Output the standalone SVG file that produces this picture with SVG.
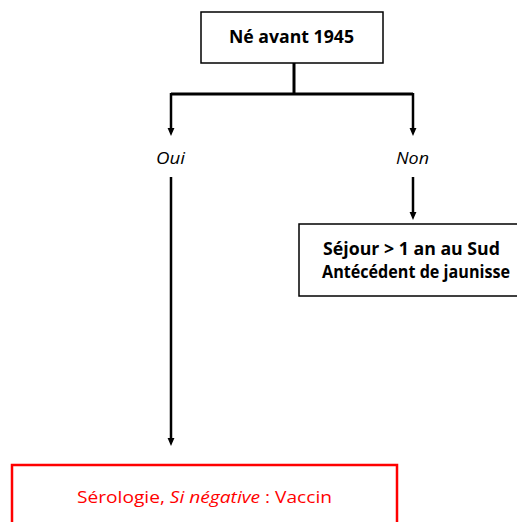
<svg xmlns="http://www.w3.org/2000/svg" width="517" height="522" viewBox="0 0 517 522">
<style>
.box{fill:#fff;stroke:#000;stroke-width:1.5}
.red{fill:#fff;stroke:#ff0000;stroke-width:2.5}
.b{font-family:"Open Sans","Liberation Sans",sans-serif;font-weight:bold;font-size:17px;fill:#000;text-anchor:middle}
.i{font-family:"Open Sans","Liberation Sans",sans-serif;font-style:italic;font-size:17px;fill:#000;text-anchor:middle}
.r{font-family:"Open Sans","Liberation Sans",sans-serif;font-size:17px;fill:#ff0000;text-anchor:middle}
.ln{stroke:#000;stroke-width:3;fill:none}
.ar{stroke:#000;stroke-width:2.5;fill:none}
</style>
<defs>
<marker id="ah" markerWidth="8" markerHeight="8" refX="3.5" refY="3" orient="auto" markerUnits="userSpaceOnUse" viewBox="0 0 7 6">
<path d="M0,0 L7,3 L0,6 Z" fill="#000"/>
</marker>
</defs>
<g id="connectors">
<path class="ln" d="M294,63 V94"/>
<path class="ln" d="M171,94 H413"/>
<path class="ar" d="M171,93 V132" marker-end="url(#ah)"/>
<path class="ar" d="M413,93 V132" marker-end="url(#ah)"/>
<path class="ar" d="M413,177 V216" marker-end="url(#ah)"/>
<path class="ar" d="M171,177 V442" marker-end="url(#ah)"/>
</g>
<g id="n-ne">
<rect class="box" x="201" y="12" width="182" height="51"/>
<text class="b" x="291.5" y="43" textLength="125" lengthAdjust="spacingAndGlyphs">Né avant 1945</text>
</g>
<g id="n-oui">
<text class="i" x="170.5" y="164" textLength="29" lengthAdjust="spacingAndGlyphs">Oui</text>
</g>
<g id="n-non">
<text class="i" x="412.5" y="164" textLength="33" lengthAdjust="spacingAndGlyphs">Non</text>
</g>
<g id="n-sejour">
<rect class="box" x="299" y="224" width="222" height="72"/>
<text class="b" x="411.5" y="255" textLength="177" lengthAdjust="spacingAndGlyphs">Séjour &gt; 1 an au Sud</text>
<text class="b" x="416" y="278" textLength="188" lengthAdjust="spacingAndGlyphs">Antécédent de jaunisse</text>
</g>
<g id="n-serologie">
<rect class="red" x="12" y="465" width="385" height="70"/>
<text class="r" x="204.5" y="503" textLength="255" lengthAdjust="spacingAndGlyphs">Sérologie, <tspan font-style="italic">Si négative</tspan> : Vaccin</text>
</g>
</svg>
